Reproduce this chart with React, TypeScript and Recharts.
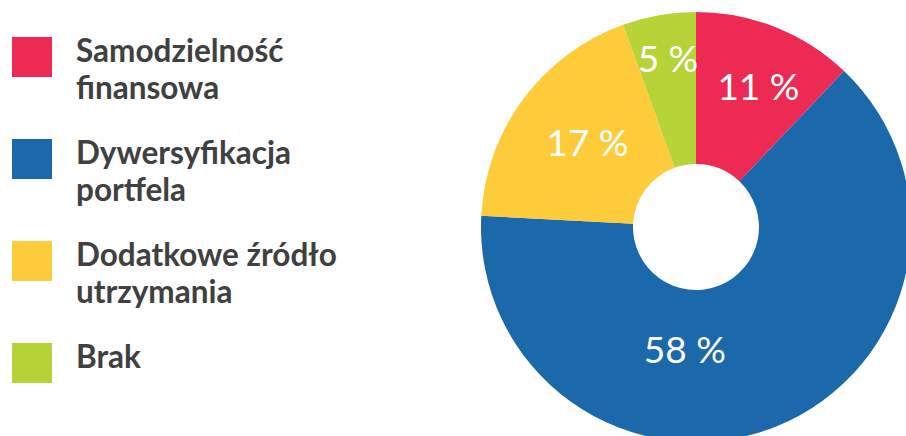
import { Cell, Pie, PieChart } from "recharts";

const NAMES = [
  "Samodzielność finansowa",
  "Dywersyfikacja portfela",
  "Dodatkowe źródło utrzymania",
  "Brak",
];
const VALUES = [11, 58, 17, 5];
const COLORS = ["#ec2a53", "#1b69ab", "#fecb3a", "#b6d337"];

// where each percentage label sits: distance from centre and shift from the slice's mid angle
const LABEL_RADIUS = [155, 122, 138, 172];
const LABEL_ANGLE_SHIFT = [-2, -27, -1.5, -0.5];

const rows = NAMES.map((name, i) => ({ name, value: VALUES[i] }));

const RADIAN = Math.PI / 180;

function renderLabel(props: any) {
  const { cx, cy, midAngle, index, value } = props;
  const r = LABEL_RADIUS[index];
  const a = (midAngle + LABEL_ANGLE_SHIFT[index]) * RADIAN;
  const x = cx + r * Math.cos(a);
  const y = cy - r * Math.sin(a);
  return (
    <text
      x={x}
      y={y}
      fill="#ffffff"
      textAnchor="middle"
      dominantBaseline="central"
      fontFamily="Lato, sans-serif"
      fontSize={37}
    >
      {`${value} %`}
    </text>
  );
}

function LegendBox() {
  return (
    <div
      style={{
        position: "absolute",
        left: 12,
        top: 32,
        display: "flex",
        flexDirection: "column",
        gap: 28,
      }}
    >
      {NAMES.map((label, i) => (
        <div key={label} style={{ display: "flex", alignItems: "flex-start" }}>
          <div
            style={{
              width: 40,
              height: 40,
              marginTop: 5,
              background: COLORS[i],
              flex: "none",
            }}
          />
          <div
            style={{
              marginLeft: 24,
              width: 290,
              fontFamily: "Lato, sans-serif",
              fontWeight: 700,
              fontSize: 31.5,
              lineHeight: "37px",
              color: "#404040",
            }}
          >
            {label}
          </div>
        </div>
      ))}
    </div>
  );
}

export default function App() {
  return (
    <div style={{ position: "relative", width: 906, height: 436, overflow: "hidden", background: "#fff" }}>
      <style>{`body{margin:0}`}</style>
      <PieChart width={906} height={436} margin={{ top: 0, right: 0, bottom: 0, left: 0 }}>
        <Pie
          data={rows}
          dataKey="value"
          nameKey="name"
          cx={696}
          cy={227}
          innerRadius={63}
          outerRadius={215}
          startAngle={90}
          endAngle={-270}
          stroke="none"
          labelLine={false}
          label={renderLabel}
          isAnimationActive={false}
        >
          {rows.map((r, i) => (
            <Cell key={r.name} fill={COLORS[i]} />
          ))}
        </Pie>
      </PieChart>
      <LegendBox />
    </div>
  );
}
